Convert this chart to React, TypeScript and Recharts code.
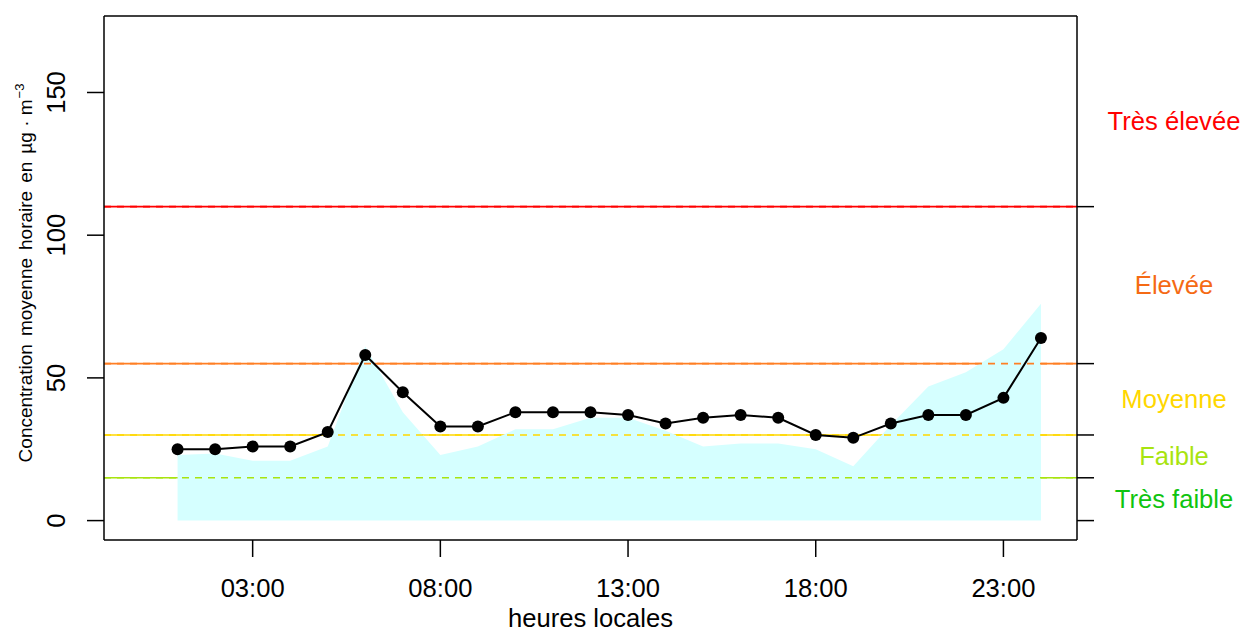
import React from 'react';
import {
  ComposedChart,
  Area,
  Line,
  XAxis,
  YAxis,
  ReferenceLine,
} from 'recharts';

// heures 1..24, concentration moyenne horaire (µg/m3)
const hours = [1, 2, 3, 4, 5, 6, 7, 8, 9, 10, 11, 12, 13, 14, 15, 16, 17, 18, 19, 20, 21, 22, 23, 24];
const concentration = [25, 25, 26, 26, 31, 58, 45, 33, 33, 38, 38, 38, 37, 34, 36, 37, 36, 30, 29, 34, 37, 37, 43, 64];
const envelope = [23, 23.5, 21, 21, 26, 61, 38, 23, 26, 32, 32, 36, 36, 31.5, 26, 27, 27, 25, 19, 33.5, 47, 52, 60, 76];

const xTickValues = [3, 8, 13, 18, 23];
const xTickLabels = ['03:00', '08:00', '13:00', '18:00', '23:00'];
const yTickValues = [0, 50, 100, 150];

const thresholds = [15, 30, 55, 110];
const thresholdColors = ['#a8e40f', '#ffd700', '#ff7f24', '#ff0000'];
const rightTicks = [0, 15, 30, 55, 110];

const bandNames = ['Très faible', 'Faible', 'Moyenne', 'Élevée', 'Très élevée'];
const bandCenters = [7.5, 22.5, 42.5, 82.5, 140];
const bandColors = ['#10c410', '#a8e40f', '#ffd700', '#f56a14', '#ff0000'];

const yTitleWords = ['Concentration', 'moyenne', 'horaire', 'en', 'µg · m'];

const data = hours.map((h, i) => ({ hour: h, conc: concentration[i], env: envelope[i] }));

const FONT = '"Liberation Sans", Arial, sans-serif';
const xDomain = [-0.96, 24.96];
const yDomain = [-6.8, 176.8];

function YTick({ x, y, payload }: any) {
  return (
    <text
      x={x}
      y={y}
      transform={`rotate(-90, ${x}, ${y})`}
      textAnchor="middle"
      fontSize={25.6}
      fontFamily={FONT}
      fill="#000"
    >
      {payload.value}
    </text>
  );
}

function EmptyTick() {
  return <g />;
}

// label de la bande, centré dans la marge droite
function BandLabel({ viewBox, index }: any) {
  if (!viewBox) return null;
  const x = viewBox.x + viewBox.width + 97;
  return (
    <text
      x={x}
      y={viewBox.y}
      dy={9}
      textAnchor="middle"
      fontSize={25.6}
      fontFamily={FONT}
      fill={bandColors[index]}
    >
      {bandNames[index]}
    </text>
  );
}

function YTitle() {
  return (
    <text
      x={32}
      y={273}
      transform="rotate(-90, 32, 273)"
      textAnchor="middle"
      fontSize={19}
      fontFamily={FONT}
      fill="#000"
      style={{ whiteSpace: 'pre' }}
    >
      {yTitleWords.map((w, i) => (
        <tspan key={w} dx={i === 0 ? 0 : 8}>{w}</tspan>
      ))}
      <tspan dy={-8} dx={1} fontSize={13}>−3</tspan>
    </text>
  );
}

export default function App() {
  return (
    <div style={{ position: 'absolute', left: 0, top: 0, background: '#fff' }}>
      <ComposedChart
        width={1244}
        height={631}
        data={data}
        margin={{ top: 15, right: 0, bottom: 0, left: 0 }}
        style={{ fontFamily: FONT }}
      >
        <XAxis
          dataKey="hour"
          type="number"
          domain={xDomain}
          allowDataOverflow
          ticks={xTickValues}
          interval={0}
          tickFormatter={(v) => xTickLabels[xTickValues.indexOf(v)]}
          height={91}
          tickSize={17}
          tickMargin={22}
          stroke="#000"
          strokeWidth={1.5}
          tick={{ fontSize: 25.6, fill: '#000', fontFamily: FONT }}
          label={{ value: 'heures locales', position: 'insideBottom', offset: 4, fontSize: 25.6, fill: '#000', fontFamily: FONT }}
        />
        <XAxis
          xAxisId="top"
          orientation="top"
          type="number"
          domain={xDomain}
          allowDataOverflow
          height={1}
          tick={false}
          tickLine={false}
          stroke="#000"
          strokeWidth={1.5}
        />
        <YAxis
          type="number"
          domain={yDomain}
          allowDataOverflow
          ticks={yTickValues}
          interval={0}
          width={104}
          tickSize={17}
          tickMargin={22}
          stroke="#000"
          strokeWidth={1.5}
          tick={<YTick />}
          label={<YTitle />}
        />
        <YAxis
          yAxisId="r"
          orientation="right"
          type="number"
          domain={yDomain}
          allowDataOverflow
          ticks={rightTicks}
          interval={0}
          width={167}
          tickSize={17}
          stroke="#000"
          strokeWidth={1.5}
          tick={<EmptyTick />}
        />
        {bandCenters.map((c, i) => (
          <ReferenceLine key={'b' + c} y={c} stroke="none" label={<BandLabel index={i} />} />
        ))}
        {thresholds.map((t, i) => (
          <ReferenceLine key={'s' + t} y={t} stroke={thresholdColors[i]} strokeWidth={1.6} zIndex={50} />
        ))}
        <Area
          dataKey="env"
          type="linear"
          baseValue={0}
          fill="#d5ffff"
          fillOpacity={1}
          stroke="none"
          isAnimationActive={false}
          zIndex={100}
        />
        {thresholds.map((t, i) => (
          <ReferenceLine
            key={'d' + t}
            y={t}
            stroke={thresholdColors[i]}
            strokeWidth={1.6}
            strokeDasharray="7 6"
            zIndex={150}
          />
        ))}
        <Line
          dataKey="conc"
          type="linear"
          stroke="#000"
          strokeWidth={2}
          dot={{ r: 6, fill: '#000', stroke: 'none' }}
          activeDot={false}
          isAnimationActive={false}
        />
      </ComposedChart>
    </div>
  );
}
